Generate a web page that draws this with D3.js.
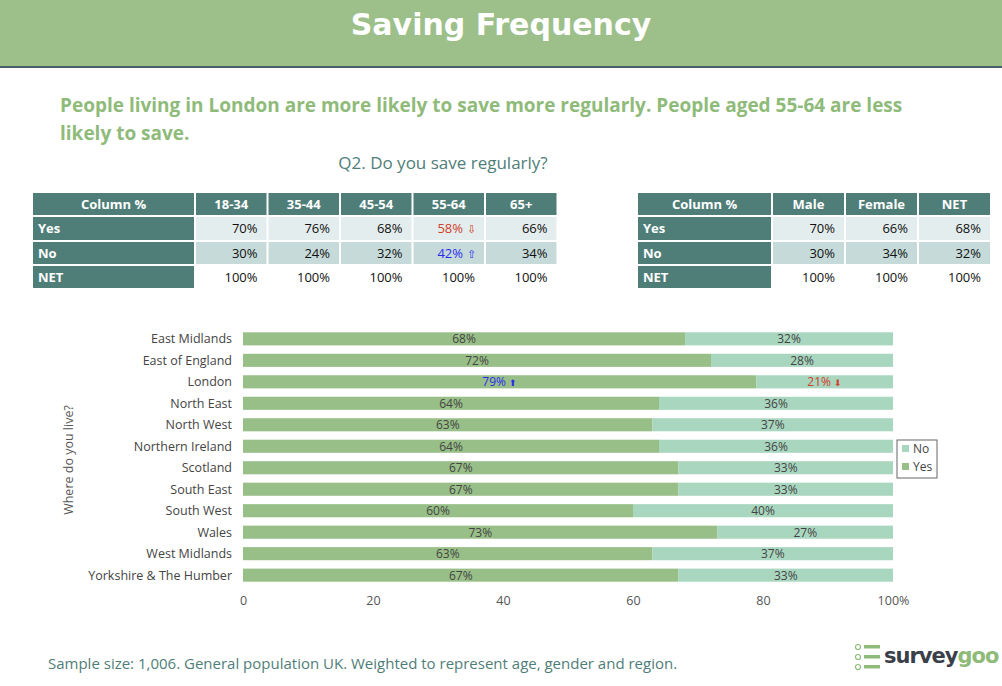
<!DOCTYPE html>
<html><head><meta charset="utf-8">
<script src="https://cdn.jsdelivr.net/npm/d3@7"></script>
<style>body{margin:0;background:#fff;font-family:"Open Sans",sans-serif}</style>
</head><body><div id="chart"></div>
<script>
var regions = ["East Midlands","East of England","London","North East","North West","Northern Ireland","Scotland","South East","South West","Wales","West Midlands","Yorkshire & The Humber"];
var yesVals = [68,72,79,64,63,64,67,67,60,73,63,67];
var noVals = [32,28,21,36,37,36,33,33,40,27,37,33];
var ageCols = ["18-34","35-44","45-54","55-64","65+"];
var ageYes = [70,76,68,58,66];
var ageNo = [30,24,32,42,34];
var genderCols = ["Male","Female","NET"];
var genderYes = [70,66,68];
var genderNo = [30,34,32];
var xTicks = [0,20,40,60,80,100];

var svg = d3.select("#chart").append("svg").attr("width",1002).attr("height",686);
var dark = "#4f7e79", green = "#98bf87", mint = "#a9d6bf";

// header
svg.append("rect").attr("width",1002).attr("height",67).attr("fill","#9dc08b");
svg.append("rect").attr("y",66).attr("width",1002).attr("height",2).attr("fill","#4a5e6a");
svg.append("text").attr("x",501).attr("y",35).attr("text-anchor","middle")
  .attr("font-family","Verdana, DejaVu Sans, sans-serif").attr("font-weight","bold")
  .attr("font-size",30).attr("fill","#fff").text("Saving Frequency");

svg.append("text").attr("x",60).attr("y",112).attr("font-size",19).attr("font-weight","bold").attr("fill","#8fbb7a")
  .text("People living in London are more likely to save more regularly. People aged 55-64 are less");
svg.append("text").attr("x",60).attr("y",140).attr("font-size",19).attr("font-weight","bold").attr("fill","#8fbb7a")
  .text("likely to save.");
svg.append("text").attr("x",443).attr("y",169).attr("text-anchor","middle").attr("font-size",17).attr("fill",dark)
  .text("Q2. Do you save regularly?");

function table(x0, firstW, colW, cols, yes, no, sig) {
  var rows = [["Column %"].concat(cols),
    ["Yes"].concat(yes.map(d=>d+"%")),
    ["No"].concat(no.map(d=>d+"%")),
    ["NET"].concat(cols.map(()=>"100%"))];
  var tops = [193,217,242,266], h = [22,23,22,22];
  rows.forEach(function(r, ri) {
    r.forEach(function(c, ci) {
      var x = ci===0 ? x0 : x0+firstW+(ci-1)*colW;
      var w = ci===0 ? firstW : colW;
      var head = ri===0 || ci===0;
      var fill = head ? dark : ri===1 ? "#e4eded" : ri===2 ? "#c6dbd9" : "#ffffff";
      svg.append("rect").attr("x",x+1).attr("y",tops[ri]).attr("width",w-2).attr("height",h[ri]).attr("fill",fill);
      var col = "#111", txt = c;
      if (sig && ci===4 && ri===1) col = "#d0402a";
      if (sig && ci===4 && ri===2) col = "#2b2bf0";
      var t = svg.append("text").attr("y",tops[ri]+h[ri]/2+4.5).attr("font-size",13)
        .attr("fill",head?"#fff":col).attr("font-weight",head?"bold":"normal");
      if (ri===0) t.attr("x", x+w/2).attr("text-anchor","middle").text(c);
      else if (ci===0) t.attr("x", x+6).text(c);
      else t.attr("x", x+w-(sig&&ci===4&&ri<3&&ri>0?22:10)).attr("text-anchor","end").text(c);
      if (sig && ci===4 && (ri===1||ri===2))
        svg.append("text").attr("x",x+w-18).attr("y",tops[ri]+h[ri]/2+4.5).attr("font-size",11).attr("fill",col)
          .text(ri===1?"⇩":"⇧");
    });
  });
}
table(32,163,72.5,ageCols,ageYes,ageNo,true);
table(637,135,73,genderCols,genderYes,genderNo,false);

// chart
var x = d3.scaleLinear().domain([0,100]).range([243,893]);
var y = d3.scaleBand().domain(regions).range([328,586]).paddingInner(0.39).paddingOuter(0.2);
var g = svg.append("g");
g.selectAll(".yes").data(regions).enter().append("rect")
  .attr("x",x(0)).attr("y",d=>y(d)).attr("height",y.bandwidth())
  .attr("width",(d,i)=>x(yesVals[i])-x(0)).attr("fill",green);
g.selectAll(".no").data(regions).enter().append("rect")
  .attr("x",(d,i)=>x(yesVals[i])).attr("y",d=>y(d)).attr("height",y.bandwidth())
  .attr("width",(d,i)=>x(yesVals[i]+noVals[i])-x(yesVals[i])).attr("fill",mint);
regions.forEach(function(r,i){
  var cy = y(r)+y.bandwidth()/2+4.5;
  var lond = r==="London";
  g.append("text").attr("x",x(yesVals[i]/2)).attr("y",cy).attr("text-anchor","middle").attr("font-size",12)
    .attr("fill",lond?"#2b2bf0":"#444").text(yesVals[i]+"%" + (lond?" ➜":""));
  g.append("text").attr("x",x(yesVals[i]+noVals[i]/2)).attr("y",cy).attr("text-anchor","middle").attr("font-size",12)
    .attr("fill",lond?"#d0402a":"#444").text(noVals[i]+"%" + (lond?" ➜":""));
  g.append("text").attr("x",232).attr("y",cy).attr("text-anchor","end").attr("font-size",12.5).attr("fill","#444").text(r);
});
// rotate the London arrows
g.selectAll("text").filter(function(){return /➜/.test(this.textContent);}).each(function(){
  var s = d3.select(this), up = s.attr("fill")==="#2b2bf0", t = s.text().replace(" ➜","");
  s.text(t+" ");
  s.append("tspan").attr("font-size",9).text(up?"⬆":"⬇");
});
var ax = svg.append("g").attr("transform","translate(0,586)")
  .call(d3.axisBottom(x).tickValues(xTicks).tickSize(0).tickFormat(d=>d===100?"100%":d));
ax.select(".domain").remove();
ax.selectAll("text").attr("font-size",12.5).attr("fill","#555").attr("dy","1.3em").attr("font-family","Open Sans, sans-serif");
svg.append("text").attr("transform","translate(73,460) rotate(-90)").attr("text-anchor","middle")
  .attr("font-size",12.5).attr("fill","#555").text("Where do you live?");
// legend
svg.append("rect").attr("x",897).attr("y",440).attr("width",40).attr("height",38).attr("fill","#fff").attr("stroke","#666");
[["No",mint,449],["Yes",green,467]].forEach(function(l){
  svg.append("rect").attr("x",902).attr("y",l[2]-4).attr("width",7).attr("height",7).attr("fill",l[1]);
  svg.append("text").attr("x",913).attr("y",l[2]+4).attr("font-size",12).attr("fill","#444").text(l[0]);
});

svg.append("text").attr("x",48).attr("y",669).attr("font-size",15).attr("fill",dark)
  .text("Sample size: 1,006. General population UK. Weighted to represent age, gender and region.");
// logo
var lg = svg.append("g").attr("transform","translate(855,645)");
[0,10,20].forEach(function(d){
  lg.append("circle").attr("cx",3).attr("cy",d+2).attr("r",2.5).attr("fill","none").attr("stroke","#8fbb7a").attr("stroke-width",1.2);
  lg.append("rect").attr("x",9).attr("y",d).attr("width",16).attr("height",3.5).attr("fill","#8fbb7a");
});
lg.append("text").attr("x",29).attr("y",18).attr("font-size",21).attr("font-weight","bold").attr("letter-spacing",-1)
  .attr("font-family","Verdana, DejaVu Sans, sans-serif").attr("fill","#3a3f4a").text("survey")
  .append("tspan").attr("fill","#8fbb7a").text("goo");
</script></body></html>
